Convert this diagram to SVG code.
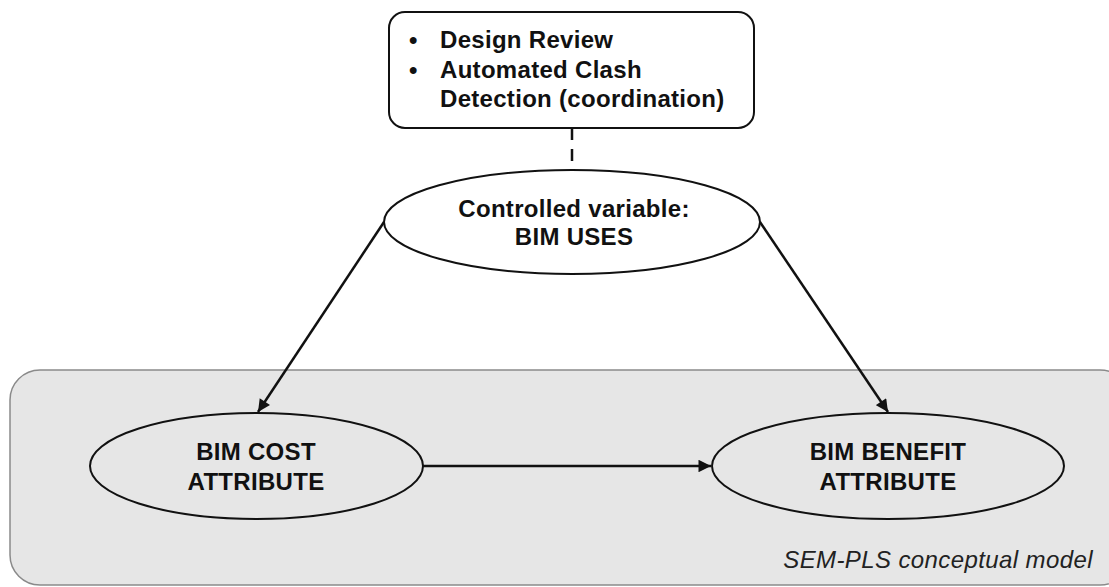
<svg xmlns="http://www.w3.org/2000/svg" width="1109" height="587" viewBox="0 0 1109 587">
<style>
.t{font-family:"Liberation Sans",Arial,sans-serif;font-size:24px;font-weight:bold;fill:#111;letter-spacing:0.3px}
.n{fill:#fff;stroke:#111;stroke-width:2}
.e{fill:#e6e6e6;stroke:#111;stroke-width:2}
.c{stroke:#111;stroke-width:2.5;fill:none}
</style>
<defs>
<marker id="ah" viewBox="0 0 10 10" refX="10" refY="5" markerWidth="5.5" markerHeight="5" markerUnits="strokeWidth" orient="auto">
<path d="M0,0 L10,5 L0,10 z" fill="#111"/>
</marker>
</defs>
<rect width="1109" height="587" fill="#fff"/>
<g id="sem-pls-group">
<rect x="10" y="370" width="1120" height="215" rx="30" ry="30" fill="#e6e6e6" stroke="#8a8a8a" stroke-width="1.5"/>
<text x="1093" y="568" text-anchor="end" style="font-family:'Liberation Sans',Arial,sans-serif;font-size:24px;font-style:italic;fill:#222;letter-spacing:0.4px">SEM-PLS conceptual model</text>
</g>
<g id="bim-uses-list">
<rect class="n" x="389" y="12" width="365" height="116" rx="16" ry="16"/>
<text class="t" x="409" y="48">•</text>
<text class="t" x="440" y="48">Design Review</text>
<text class="t" x="409" y="78">•</text>
<text class="t" x="440" y="78">Automated Clash</text>
<text class="t" x="440" y="107">Detection (coordination)</text>
</g>
<g id="connectors">
<line class="c" x1="572" y1="128" x2="572" y2="170" stroke-dasharray="12,9"/>
<line class="c" x1="384" y1="222" x2="258" y2="412" marker-end="url(#ah)"/>
<line class="c" x1="760" y1="222" x2="888" y2="412" marker-end="url(#ah)"/>
<line class="c" x1="423" y1="466" x2="711" y2="466" marker-end="url(#ah)"/>
</g>
<g id="controlled-variable">
<ellipse class="n" cx="572" cy="222" rx="188" ry="52"/>
<text class="t" x="574" y="217" text-anchor="middle">Controlled variable:</text>
<text class="t" x="574" y="245" text-anchor="middle">BIM USES</text>
</g>
<g id="bim-cost">
<ellipse class="e" cx="256.5" cy="466" rx="166.5" ry="53"/>
<text class="t" x="256" y="460" text-anchor="middle">BIM COST</text>
<text class="t" x="256" y="490" text-anchor="middle">ATTRIBUTE</text>
</g>
<g id="bim-benefit">
<ellipse class="e" cx="888" cy="466" rx="176" ry="53"/>
<text class="t" x="888" y="460" text-anchor="middle">BIM BENEFIT</text>
<text class="t" x="888" y="490" text-anchor="middle">ATTRIBUTE</text>
</g>
</svg>
